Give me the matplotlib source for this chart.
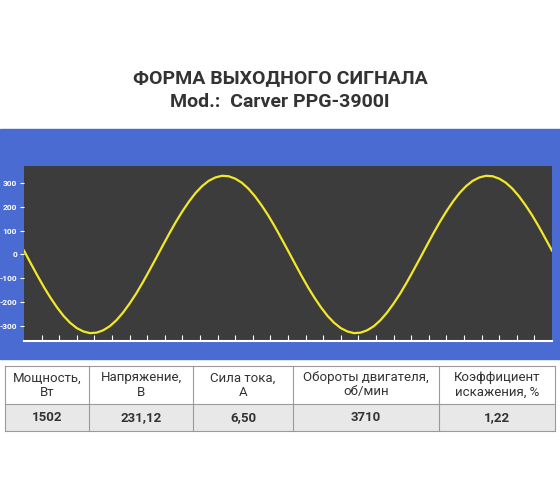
import matplotlib
matplotlib.use("Agg")
import matplotlib.pyplot as plt
from matplotlib.patches import Rectangle

plt.rcParams['font.family'] = ['Roboto', 'DejaVu Sans']

# signal samples, one every 0.5 ms
time_ms = [i * 0.5 for i in range(81)]
volts = [16, -36, -87, -136, -181, -222, -258, -287, -309, -323,
         -330, -328, -318, -301, -276, -244, -206, -164, -117, -67,
         -16, 36, 87, 136, 181, 222, 258, 287, 309, 323,
         330, 328, 318, 301, 276, 244, 206, 164, 117, 67,
         16, -36, -87, -136, -181, -222, -258, -287, -309, -323,
         -330, -328, -318, -301, -276, -244, -206, -164, -117, -67,
         -16, 36, 87, 136, 181, 222, 258, 287, 309, 323,
         330, 328, 318, 301, 276, 244, 206, 164, 117, 67,
         16]
y_ticks = [-300, -200, -100, 0, 100, 200, 300]

headers = ["Мощность,\nВт", "Напряжение,\nВ", "Сила тока,\nА",
           "Обороты двигателя,\nоб/мин", "Коэффициент\nискажения, %"]
values = ["1502", "231,12", "6,50", "3710", "1,22"]

W, H = 560, 504
fig = plt.figure(figsize=(5.6, 5.04), dpi=100)
bg = fig.add_axes((0, 0, 1, 1))
bg.set_xlim(0, W)
bg.set_ylim(H, 0)
bg.axis('off')

bg.text(280, 78, "ФОРМА ВЫХОДНОГО СИГНАЛА", ha='center', va='center',
        fontsize=14, fontweight='bold', color='#333333')
bg.text(280, 102, "Mod.:  Carver PPG-3900I", ha='center', va='center',
        fontsize=14, fontweight='bold', color='#333333')

bg.add_patch(Rectangle((0, 129), W, 230, color='#4a6cd2'))

# table
cols = [5, 89, 193, 293, 439, 555]
bg.add_patch(Rectangle((5, 404), 550, 27, facecolor='#e8e8e8', edgecolor='none'))
for x in cols:
    bg.plot([x, x], [366, 431], color='#9a9a9a', lw=0.8)
for y in (366, 404, 431):
    bg.plot([5, 555], [y, y], color='#9a9a9a', lw=0.8)
for i in range(5):
    cx = (cols[i] + cols[i + 1]) / 2
    bg.text(cx, 385, headers[i], ha='center', va='center', fontsize=9.5,
            color='#333333', linespacing=1.1)
    bg.text(cx, 417.5, values[i], ha='center', va='center', fontsize=9.5,
            fontweight='bold', color='#333333')

ax = fig.add_axes((24 / W, 1 - 341 / H, 528 / W, 175 / H))
ax.set_facecolor('#3c3c3c')
ax.plot(time_ms, volts, color='#f2e82a', lw=1.6)
ax.set_xlim(0, 40)
ax.set_ylim(-363, 371)
ax.set_yticks(y_ticks)
ax.set_yticklabels([str(v) for v in y_ticks])
ax.set_xticks([i * 40 / 30 for i in range(1, 30)])
ax.set_xticklabels([])
ax.tick_params(axis='y', colors='white', labelsize=6, length=3, pad=2)
ax.tick_params(axis='x', colors='white', direction='in', length=4)
for lab in ax.get_yticklabels():
    lab.set_fontweight('bold')
for s in ('top', 'right', 'left'):
    ax.spines[s].set_visible(False)
ax.spines['bottom'].set_color('white')
ax.spines['bottom'].set_linewidth(1.5)

fig.savefig("out.png", dpi=100, facecolor='white')
